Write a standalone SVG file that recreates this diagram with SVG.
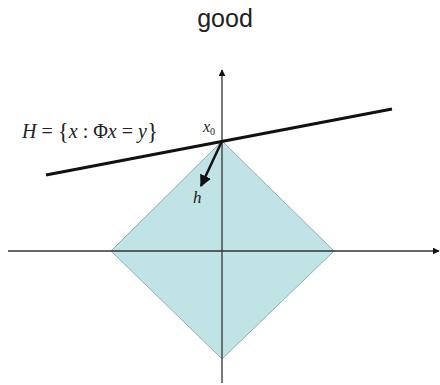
<svg xmlns="http://www.w3.org/2000/svg" width="440" height="385" viewBox="0 0 440 385">
<defs>
<style>
.axis{stroke:#333;stroke-width:1.3;fill:none}
.lbl{font-family:"Liberation Serif",serif;font-style:italic;fill:#222}
</style>
<marker id="ah" viewBox="0 0 10 10" refX="9" refY="5" markerWidth="7" markerHeight="7" orient="auto" markerUnits="userSpaceOnUse">
<path d="M0,0 L10,5 L0,10 z" fill="#111"/>
</marker>
<marker id="ah2" viewBox="0 0 10 10" refX="9" refY="5" markerWidth="12" markerHeight="12" orient="auto" markerUnits="userSpaceOnUse">
<path d="M0,0 L10,5 L0,10 z" fill="#111"/>
</marker>
</defs>
<rect width="440" height="385" fill="#fff"/>
<text x="225" y="27" text-anchor="middle" font-family="Liberation Sans, Arial, sans-serif" font-size="25" fill="#222">good</text>
<g id="l1-ball">
<polygon points="222,141 334,251 222,359 111,251" fill="#c0e3e6" stroke="#8fb0b3" stroke-width="1"/>
</g>
<g id="connectors">
<line class="axis" x1="8" y1="251" x2="439" y2="251" marker-end="url(#ah)"/>
<line class="axis" x1="222" y1="383" x2="222" y2="70" marker-end="url(#ah)"/>
<line x1="46" y1="175" x2="392" y2="109" stroke="#111" stroke-width="3"/>
<line x1="222" y1="141" x2="201" y2="186" stroke="#111" stroke-width="2.5" marker-end="url(#ah2)"/>
</g>
<g id="labels">
<text x="22" y="138" font-family="Liberation Serif,serif" font-size="20" fill="#222"><tspan font-style="italic">H</tspan> = <tspan font-size="23" dy="1">{</tspan><tspan font-style="italic" dy="-1">x</tspan> : Φ<tspan font-style="italic">x</tspan> = <tspan font-style="italic">y</tspan><tspan font-size="23" dy="1">}</tspan></text>
<text class="lbl" x="203" y="132" font-size="16">x<tspan font-size="10" font-style="normal" dy="3">0</tspan></text>
<text class="lbl" x="193" y="203" font-size="17">h</text>
</g>
</svg>
